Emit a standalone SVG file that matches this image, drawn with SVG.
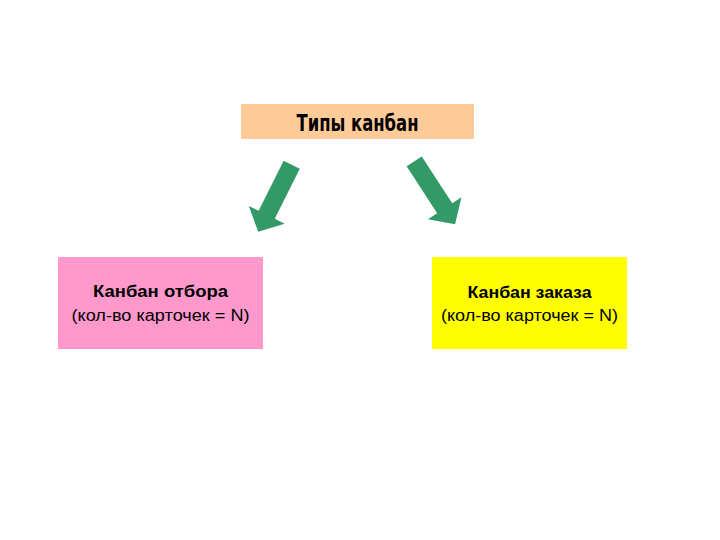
<svg xmlns="http://www.w3.org/2000/svg" width="720" height="540" viewBox="0 0 720 540">
  <style>
    .title { font-family: "Liberation Sans Narrow", "DejaVu Sans Condensed", "Liberation Sans", sans-serif; font-weight: bold; font-size: 23px; fill: #000000; }
    .bold { font-family: "Liberation Sans", Arial, sans-serif; font-weight: bold; font-size: 16px; fill: #000000; }
    .norm { font-family: "Liberation Sans", Arial, sans-serif; font-size: 16px; fill: #000000; }
    .arrow { fill: #339966; }
  </style>
  <defs>
    <polygon id="fatArrow" points="-9,0 9,0 9,56 20,56 0,75 -20,56 -9,56"/>
  </defs>
  <rect width="720" height="540" fill="#ffffff"/>

  <g id="node-types">
    <rect x="241" y="104" width="233" height="35" fill="#FFCC99"/>
    <text class="title" x="357.5" y="131" text-anchor="middle" textLength="122" lengthAdjust="spacingAndGlyphs">Типы канбан</text>
  </g>

  <g id="node-withdrawal">
    <rect x="58" y="257" width="205" height="92" fill="#FF99CC"/>
    <text class="bold" x="160.5" y="297" text-anchor="middle" textLength="135" lengthAdjust="spacingAndGlyphs">Канбан отбора</text>
    <text class="norm" x="160.5" y="321" text-anchor="middle" textLength="178" lengthAdjust="spacingAndGlyphs">(кол-во карточек = N)</text>
  </g>

  <g id="node-order">
    <rect x="432" y="257" width="195" height="92" fill="#FFFF00"/>
    <text class="bold" x="529.5" y="298" text-anchor="middle" textLength="124" lengthAdjust="spacingAndGlyphs">Канбан заказа</text>
    <text class="norm" x="529.5" y="321" text-anchor="middle" textLength="177" lengthAdjust="spacingAndGlyphs">(кол-во карточек = N)</text>
  </g>

  <g id="connectors">
    <use href="#fatArrow" class="arrow" transform="translate(291.7,164.7) rotate(26.5)"/>
    <use href="#fatArrow" class="arrow" transform="translate(414.2,161.3) rotate(-33)"/>
  </g>
</svg>
